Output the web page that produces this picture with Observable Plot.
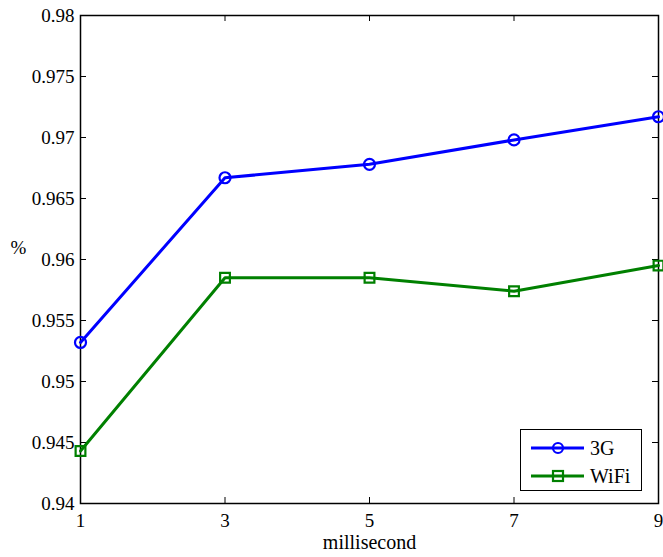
<!DOCTYPE html>
<html>
<head>
<meta charset="utf-8">
<script src="https://cdn.jsdelivr.net/npm/d3@7"></script>
<script src="https://cdn.jsdelivr.net/npm/@observablehq/plot@0.6"></script>
<style>
  html, body { margin: 0; padding: 0; background: #fff; }
  #wrap { position: relative; width: 663px; height: 557px; }
  #wrap svg text { font-family: "Liberation Serif", "Times New Roman", "DejaVu Serif", serif; }
  #legend {
    position: absolute; left: 520px; top: 429px; width: 122px; height: 62px;
    border: 1.5px solid #000; background: #fff; box-sizing: border-box;
  }
  #legend svg { position: absolute; left: 0; top: 0; }
</style>
</head>
<body>
<div id="wrap"></div>
<script>
const xValues = [1, 3, 5, 7, 9];
const series3G = [0.9532, 0.9667, 0.9678, 0.9698, 0.9717];
const seriesWiFi = [0.9443, 0.9585, 0.9585, 0.9574, 0.9595];
const seriesNames = ["3G", "WiFi"];
const seriesColors = ["#0000ff", "#008000"];
const xTicks = [1, 3, 5, 7, 9];
const yTicks = [0.94, 0.945, 0.95, 0.955, 0.96, 0.965, 0.97, 0.975, 0.98];

const data = [
  ...xValues.map((x, i) => ({x, y: series3G[i], s: "3G"})),
  ...xValues.map((x, i) => ({x, y: seriesWiFi[i], s: "WiFi"}))
];

const W = 663, H = 557, mL = 80, mR = 5, mT = 15, mB = 54;
const pw = W - mL - mR, ph = H - mT - mB;

const chart = Plot.plot({
  width: W, height: H,
  marginLeft: mL, marginRight: mR, marginTop: mT, marginBottom: mB,
  style: {fontSize: "19px", color: "#000", background: "#fff", overflow: "visible"},
  x: {domain: [1, 9]},
  y: {domain: [0.94, 0.98]},
  color: {domain: seriesNames, range: seriesColors},
  marks: [
    Plot.frame({stroke: "#000", strokeWidth: 1.5}),
    Plot.tickX(xTicks, {x: d => d, insetTop: ph - 6, stroke: "#000", strokeWidth: 1}),
    Plot.tickX(xTicks, {x: d => d, insetBottom: ph - 6, stroke: "#000", strokeWidth: 1}),
    Plot.tickY(yTicks, {y: d => d, insetRight: pw - 6, stroke: "#000", strokeWidth: 1}),
    Plot.tickY(yTicks, {y: d => d, insetLeft: pw - 6, stroke: "#000", strokeWidth: 1}),
    Plot.axisX({ticks: xTicks, tickSize: 0, tickPadding: 10, tickFormat: d => String(d), label: null, fontSize: 19}),
    Plot.text(["millisecond"], {frameAnchor: "bottom", dy: 45, text: d => d, fontSize: 20}),
    Plot.axisY({ticks: yTicks, tickSize: 0, tickPadding: 6, tickFormat: d => String(+d.toFixed(3)),
      label: null, fontSize: 19}),
    Plot.text(["%"], {frameAnchor: "left", dx: -62, dy: -12, text: d => d, textAnchor: "middle", fontSize: 19}),
    Plot.line(data, {x: "x", y: "y", z: "s", stroke: "s", strokeWidth: 3}),
    Plot.dot(data.filter(d => d.s === "3G"), {x: "x", y: "y", r: 5.5, stroke: "s", strokeWidth: 2.2, fill: "none", symbol: "circle"}),
    Plot.dot(data.filter(d => d.s === "WiFi"), {x: "x", y: "y", r: 5.5, stroke: "s", strokeWidth: 2.2, fill: "none", symbol: "square"})
  ]
});

const wrap = document.getElementById("wrap");
wrap.appendChild(chart);

// Legend (HTML/SVG overlay)
const legend = document.createElement("div");
legend.id = "legend";
const ls = d3.create("svg").attr("width", 122).attr("height", 62);
seriesNames.forEach((name, i) => {
  const yy = 18 + i * 28;
  const g = ls.append("g");
  g.append("line").attr("x1", 10).attr("x2", 63).attr("y1", yy).attr("y2", yy)
    .attr("stroke", seriesColors[i]).attr("stroke-width", 3);
  if (i === 0) {
    g.append("circle").attr("cx", 37).attr("cy", yy).attr("r", 5)
      .attr("fill", "none").attr("stroke", seriesColors[i]).attr("stroke-width", 2.2);
  } else {
    g.append("rect").attr("x", 32).attr("y", yy - 5).attr("width", 10).attr("height", 10)
      .attr("fill", "none").attr("stroke", seriesColors[i]).attr("stroke-width", 2.2);
  }
  g.append("text").attr("x", 69).attr("y", yy).attr("dy", "0.35em").attr("font-size", 20).text(name);
});
legend.appendChild(ls.node());
wrap.appendChild(legend);
</script>
</body>
</html>
